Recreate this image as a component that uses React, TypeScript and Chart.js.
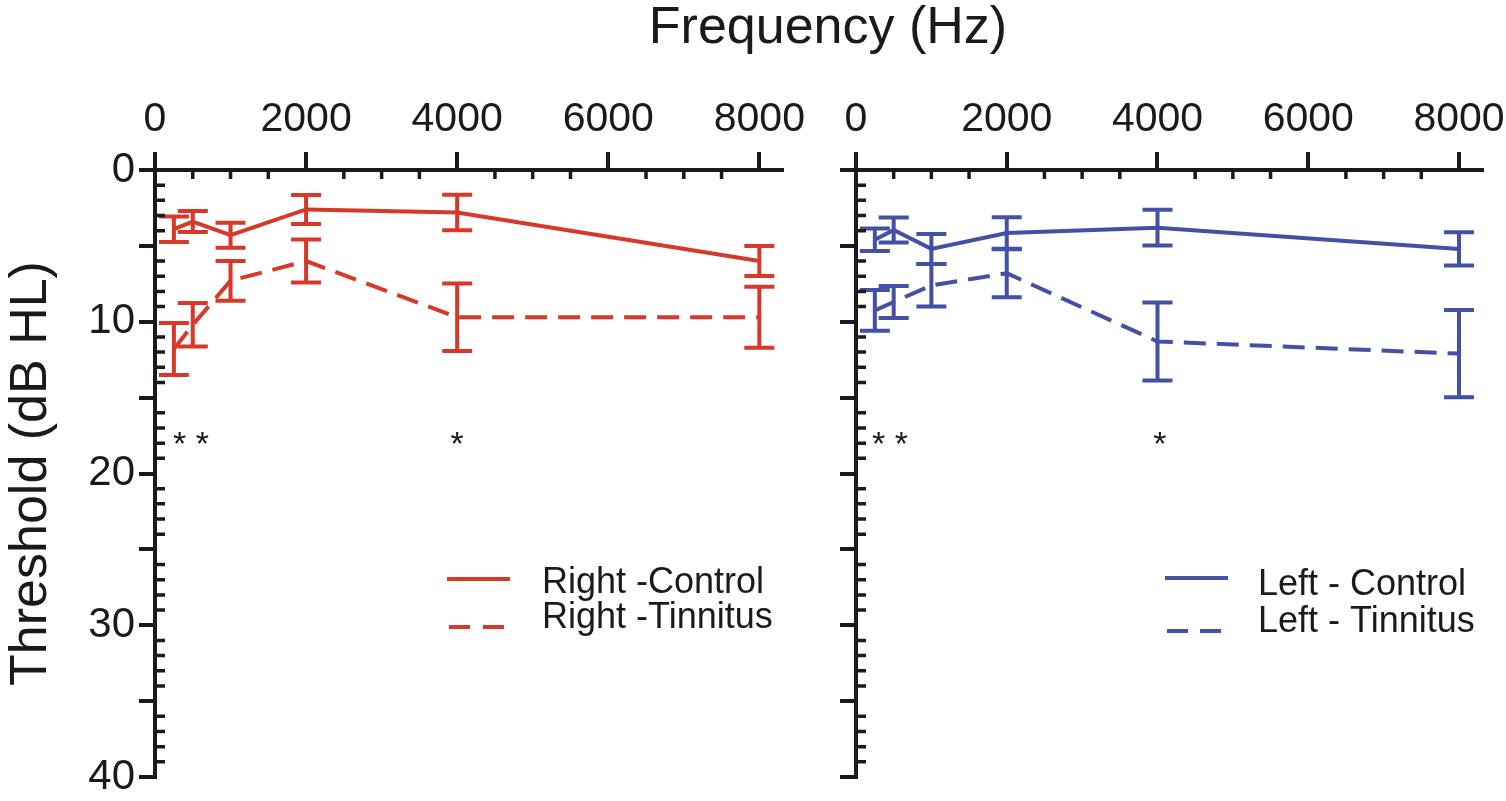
import React, { useEffect, useRef } from 'react';
import { Chart, registerables } from 'chart.js';

Chart.register(...registerables);

// ---------------- data ----------------
const frequencies = [250, 500, 1000, 2000, 4000, 8000];

// Right ear (red panel)
const rightControl = [3.9, 3.4, 4.3, 2.6, 2.8, 6.0];
const rightControlSem = [0.84, 0.69, 0.82, 0.96, 1.17, 0.99];
const rightTinnitus = [11.8, 10.2, 7.3, 6.0, 9.7, 9.7];
const rightTinnitusSem = [1.71, 1.43, 1.31, 1.42, 2.22, 2.01];

// Left ear (blue panel)
const leftControl = [4.6, 3.95, 5.2, 4.15, 3.8, 5.2];
const leftControlSem = [0.74, 0.82, 0.99, 1.04, 1.18, 1.1];
const leftTinnitus = [9.25, 8.7, 7.6, 6.8, 11.3, 12.1];
const leftTinnitusSem = [1.34, 1.05, 1.4, 1.58, 2.57, 2.87];

// significance marks
const rightSigFreqs = [477, 4000];
const rightSigLabels = ['* *', '*'];
const leftSigFreqs = [451, 4030];
const leftSigLabels = ['* *', '*'];
const sigLevel = 17.5;

// axes
const xTickValues = [0, 2000, 4000, 6000, 8000];
const xMinorTicks = [500, 1000, 1500, 2500, 3000, 3500, 4500, 5000, 5500, 6500, 7000, 7500];
const yTickValues = [0, 5, 10, 15, 20, 25, 30, 35, 40];
const yMinorTicks: number[] = [];
for (let v = 1; v < 40; v++) if (v % 5 !== 0) yMinorTicks.push(v);

// ---------------- style ----------------
const FONT = '"Liberation Sans", Arial, Helvetica, sans-serif';
const INK = '#1a1a1a';
const RED = '#d93829';
const BLUE = '#4450a6';

const errorBarPlugin = {
  id: 'errorBars',
  afterDatasetsDraw(chart: any) {
    const { ctx, scales } = chart;
    const x = scales.x;
    const y = scales.y;
    chart.data.datasets.forEach((ds: any) => {
      const sem = ds.sem;
      if (!sem) return;
      ctx.save();
      ctx.strokeStyle = ds.borderColor;
      ctx.lineWidth = 4;
      ctx.setLineDash([]);
      ctx.beginPath();
      ds.data.forEach((p: any, i: number) => {
        const px = x.getPixelForValue(p.x);
        const top = y.getPixelForValue(p.y - sem[i]);
        const bot = y.getPixelForValue(p.y + sem[i]);
        ctx.moveTo(px, top);
        ctx.lineTo(px, bot);
        ctx.moveTo(px - 15, top);
        ctx.lineTo(px + 15, top);
        ctx.moveTo(px - 15, bot);
        ctx.lineTo(px + 15, bot);
      });
      ctx.stroke();
      ctx.restore();
    });
  },
};

const minorTickPlugin = {
  id: 'minorTicks',
  afterDraw(chart: any) {
    const { ctx, chartArea, scales } = chart;
    const x = scales.x;
    const y = scales.y;
    ctx.save();
    ctx.strokeStyle = INK;
    ctx.lineWidth = 3.5;
    ctx.beginPath();
    xMinorTicks.forEach((v) => {
      const px = x.getPixelForValue(v);
      ctx.moveTo(px, chartArea.top);
      ctx.lineTo(px, chartArea.top + 9);
    });
    yMinorTicks.forEach((v) => {
      const py = y.getPixelForValue(v);
      ctx.moveTo(chartArea.left, py);
      ctx.lineTo(chartArea.left + 10, py);
    });
    ctx.stroke();
    ctx.restore();
  },
};

function makeDecorPlugin(panel: any) {
  return {
    id: 'decor',
    afterDraw(chart: any) {
      const { ctx, scales } = chart;
      const x = scales.x;
      const y = scales.y;
      ctx.save();
      // significance stars
      ctx.fillStyle = INK;
      ctx.font = `34px ${FONT}`;
      ctx.textAlign = 'center';
      ctx.textBaseline = 'alphabetic';
      panel.sigFreqs.forEach((f: number, i: number) => {
        ctx.fillText(panel.sigLabels[i], x.getPixelForValue(f), y.getPixelForValue(sigLevel) + 19);
      });
      // legend
      ctx.font = `36px ${FONT}`;
      ctx.textAlign = 'left';
      panel.legend.forEach((item: any) => {
        ctx.strokeStyle = panel.color;
        ctx.lineWidth = 4;
        ctx.setLineDash(item.dash);
        ctx.beginPath();
        ctx.moveTo(item.x1, item.ly);
        ctx.lineTo(item.x2, item.ly);
        ctx.stroke();
        ctx.setLineDash([]);
        ctx.fillStyle = INK;
        ctx.fillText(item.text, item.tx, item.ty);
      });
      ctx.restore();
    },
  };
}

function makeConfig(panel: any): any {
  return {
    type: 'line',
    data: {
      datasets: [
        {
          label: panel.labels[0],
          data: frequencies.map((f, i) => ({ x: f, y: panel.control[i] })),
          sem: panel.controlSem,
          borderColor: panel.color,
          borderWidth: 4,
          pointRadius: 0,
          fill: false,
          tension: 0,
        },
        {
          label: panel.labels[1],
          data: frequencies.map((f, i) => ({ x: f, y: panel.tinnitus[i] })),
          sem: panel.tinnitusSem,
          borderColor: panel.color,
          borderWidth: 4,
          borderDash: [22, 11],
          pointRadius: 0,
          fill: false,
          tension: 0,
        },
      ],
    },
    options: {
      responsive: false,
      animation: false,
      events: [],
      layout: { padding: { left: 0, top: 0, right: panel.padRight, bottom: 24 } },
      plugins: { legend: { display: false }, tooltip: { enabled: false }, title: { display: false } },
      scales: {
        x: {
          type: 'linear',
          position: 'top',
          min: 0,
          max: 8300,
          afterBuildTicks: (s: any) => {
            s.ticks = xTickValues.map((v) => ({ value: v }));
          },
          afterFit: (s: any) => {
            s.height = 170;
            s.paddingLeft = 0;
            s.paddingRight = 0;
          },
          grid: { drawOnChartArea: false, drawTicks: true, tickLength: 18, lineWidth: 4, color: INK },
          border: { display: true, width: 4, color: INK },
          ticks: {
            font: { family: FONT, size: 41 },
            color: INK,
            padding: 8,
            maxRotation: 0,
            autoSkip: false,
            callback: (v: any) => String(v),
          },
        },
        y: {
          type: 'linear',
          position: 'left',
          reverse: true,
          min: 0,
          max: 40,
          afterBuildTicks: (s: any) => {
            s.ticks = yTickValues.map((v) => ({ value: v }));
          },
          afterFit: (s: any) => {
            s.width = panel.yWidth;
            s.paddingTop = 0;
            s.paddingBottom = 0;
          },
          grid: { drawOnChartArea: false, drawTicks: true, tickLength: 16, lineWidth: 4, color: INK },
          border: { display: true, width: 4, color: INK },
          ticks: {
            font: { family: FONT, size: 42 },
            color: INK,
            padding: 4,
            autoSkip: false,
            callback: (v: any) => (panel.showYLabels && v % 10 === 0 ? String(v) : ''),
          },
          title: {
            display: panel.showYLabels,
            text: 'Threshold (dB HL)',
            font: { family: FONT, size: 52 },
            color: INK,
            padding: { top: 0, bottom: 0 },
          },
        },
      },
    },
    plugins: [errorBarPlugin, minorTickPlugin, makeDecorPlugin(panel)],
  };
}

const rightEarPanel = {
  control: rightControl,
  controlSem: rightControlSem,
  tinnitus: rightTinnitus,
  tinnitusSem: rightTinnitusSem,
  color: RED,
  labels: ['Right -Control', 'Right -Tinnitus'],
  showYLabels: true,
  yWidth: 155,
  padRight: 38,
  sigFreqs: rightSigFreqs,
  sigLabels: rightSigLabels,
  legend: [
    { text: 'Right -Control', dash: [], x1: 447, x2: 510, ly: 579, tx: 542, ty: 593 },
    { text: 'Right -Tinnitus', dash: [21, 13], x1: 449, x2: 506, ly: 627, tx: 542, ty: 628 },
  ],
};

const leftEarPanel = {
  control: leftControl,
  controlSem: leftControlSem,
  tinnitus: leftTinnitus,
  tinnitusSem: leftTinnitusSem,
  color: BLUE,
  labels: ['Left - Control', 'Left - Tinnitus'],
  showYLabels: false,
  yWidth: 36,
  padRight: 24.4,
  sigFreqs: leftSigFreqs,
  sigLabels: leftSigLabels,
  legend: [
    { text: 'Left - Control', dash: [], x1: 345, x2: 408, ly: 578, tx: 438, ty: 595 },
    { text: 'Left - Tinnitus', dash: [21, 12], x1: 347, x2: 403, ly: 631, tx: 438, ty: 632 },
  ],
};

export default function App() {
  const leftRef = useRef<HTMLCanvasElement>(null);
  const rightRef = useRef<HTMLCanvasElement>(null);

  useEffect(() => {
    const c1 = new Chart(leftRef.current as HTMLCanvasElement, makeConfig(rightEarPanel));
    const c2 = new Chart(rightRef.current as HTMLCanvasElement, makeConfig(leftEarPanel));
    return () => {
      c1.destroy();
      c2.destroy();
    };
  }, []);

  return (
    <div style={{ position: 'fixed', left: 0, top: 0, width: 1506, height: 801, background: '#fff', overflow: 'hidden' }}>
      <div
        style={{
          position: 'absolute',
          left: 528,
          top: 0,
          width: 600,
          textAlign: 'center',
          fontFamily: FONT,
          fontSize: 52,
          lineHeight: '50px',
          color: INK,
          whiteSpace: 'nowrap',
        }}
      >
        Frequency (Hz)
      </div>
      <canvas ref={leftRef} width={820} height={801} style={{ position: 'absolute', left: 0, top: 0 }} />
      <canvas ref={rightRef} width={686} height={801} style={{ position: 'absolute', left: 820, top: 0 }} />
    </div>
  );
}
